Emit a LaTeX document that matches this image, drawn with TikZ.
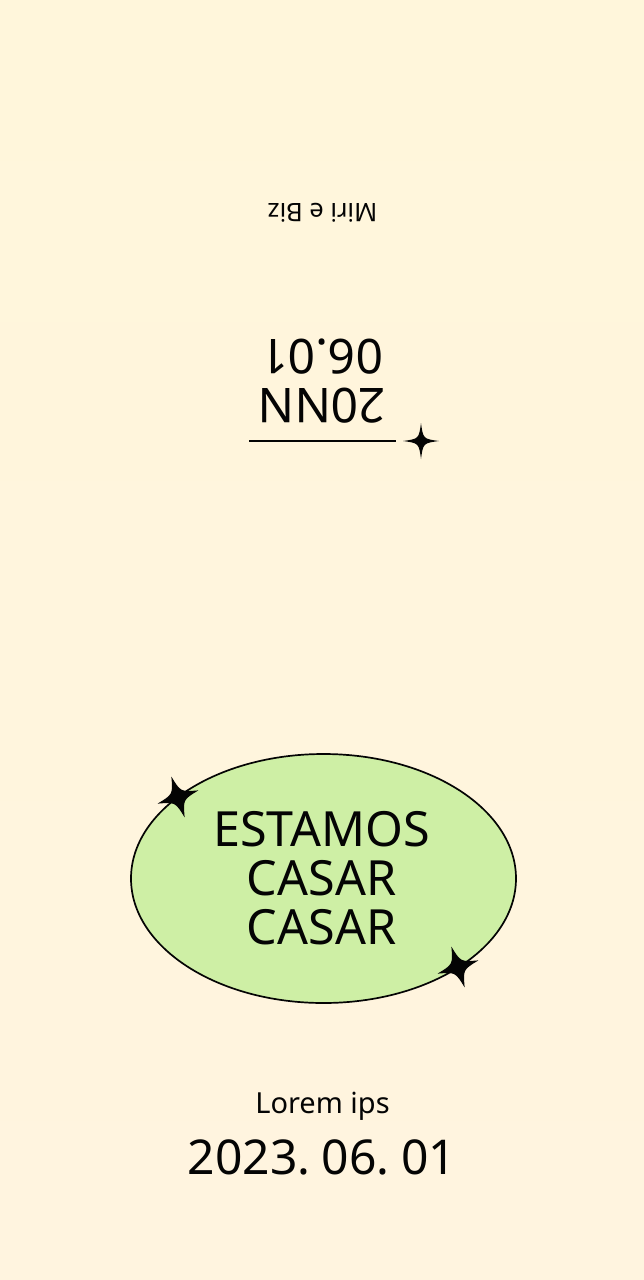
\documentclass[tikz,border=0pt]{standalone}
\usepackage{fontspec}
\usepackage{xcolor}
\usepackage{tikz}
\usetikzlibrary{shapes.geometric}
\setmainfont{Noto Sans}
\definecolor{papertop}{HTML}{FFF6DB}
\definecolor{paperbot}{HTML}{FFF4DF}
\definecolor{ovalgreen}{HTML}{CEEFA5}
\definecolor{ink}{HTML}{040404}
\newcommand\bigtxt{\fontsize{48}{49}\selectfont}
\newcommand\titletxt{\fontsize{48.5}{49}\selectfont}
\newcommand\datetxt{\bigtxt\spaceskip 7.5pt\relax}
\newcommand\spark[4]{%
  \fill[ink, shift={(#1)}, rotate=#2, scale=#3]
    (0, -1) .. controls (#4, -#4) and (#4, -#4) .. (1, 0)
    .. controls (#4, #4) and (#4, #4) .. (0, 1)
    .. controls (-#4, #4) and (-#4, #4) .. (-1, 0)
    .. controls (-#4, -#4) and (-#4, -#4) .. (0, -1) -- cycle;}
\tikzset{
  words/.style={text=ink, inner sep=0pt, align=center},
  flipped/.style={words, rotate=180}
}

\begin{document}
\begin{tikzpicture}[x=1pt, y=-1pt]
    \coordinate (Topleft) at (0, 0);
    \coordinate (Botright) at (644, 1280);

    \coordinate (Names) at (322.5, 213);
    \coordinate (Stamp) at (322, 381);
    \coordinate (Rulel) at (249, 441);
    \coordinate (Ruler) at (396, 441);
    \coordinate (Sparkt) at (421, 441);

    \coordinate (Centre) at (323.5, 878.5);
    \coordinate (Title) at (321.5, 878.5);
    \coordinate (Sparkl) at (178, 797);
    \coordinate (Sparkr) at (458, 967);

    \coordinate (Lorem) at (322.5, 1106);
    \coordinate (Date) at (322, 1157);

    \shade[top color=papertop, bottom color=paperbot] (Topleft) rectangle (Botright);
    \useasboundingbox (Topleft) rectangle (Botright);

    \node[flipped, font=\fontsize{25.5}{26}\selectfont] (names) at (Names) {Miri e Biz};
    \node[flipped, font=\bigtxt] (stamp) at (Stamp) {20NN\\06.01};
    \draw[ink, line width=1.3pt] (Rulel) -- (Ruler);
    \spark{Sparkt}{0}{18}{0.12}

    \node[ellipse, draw=ink, fill=ovalgreen, line width=1.7pt, inner sep=0pt,
          minimum width=385pt, minimum height=249pt] (oval) at (Centre) {};
    \node[words, font=\titletxt] (title) at (Title) {ESTAMOS\\CASAR\\CASAR};
    \spark{Sparkl}{18}{21.5}{0.19}
    \spark{Sparkr}{18}{21.5}{0.19}

    \node[words, font=\fontsize{29}{30}\selectfont] (lorem) at (Lorem) {Lorem ips};
    \node[words, font=\datetxt] (date) at (Date) {2023. 06. 01};
  \end{tikzpicture}
\end{document}
